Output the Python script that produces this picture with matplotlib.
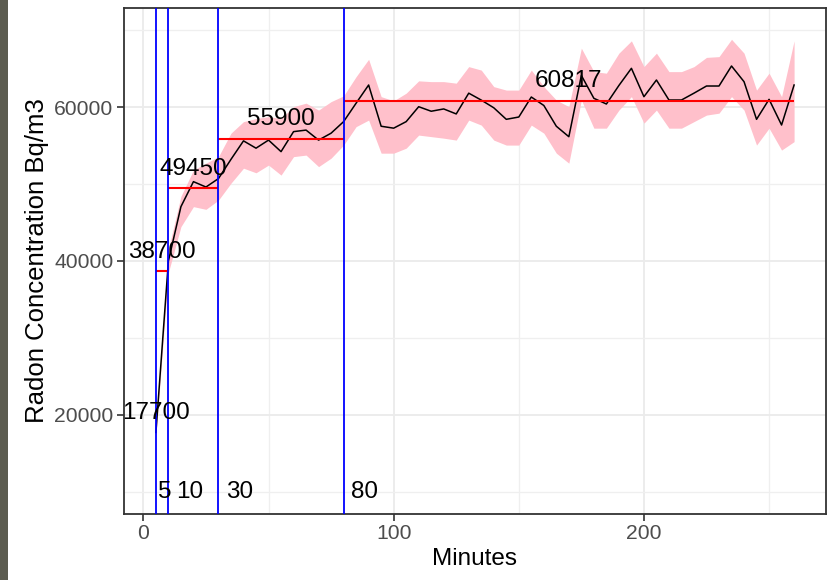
import matplotlib
matplotlib.use("Agg")
import matplotlib.pyplot as plt
from matplotlib.patches import Rectangle
from matplotlib.ticker import MultipleLocator

plt.rcParams['font.family'] = ['Liberation Sans', 'DejaVu Sans']

# ---- data ----
minutes = [5, 10, 15, 20, 25, 30, 35, 40, 45, 50, 55, 60, 65, 70, 75, 80, 85, 90, 95, 100,
           105, 110, 115, 120, 125, 130, 135, 140, 145, 150, 155, 160, 165, 170, 175, 180,
           185, 190, 195, 200, 205, 210, 215, 220, 225, 230, 235, 240, 245, 250, 255, 260]
radon = [17700, 40000, 47050, 50300, 49600, 50700, 53200, 55600, 54650, 55700, 54200, 56800,
         57000, 55700, 56600, 58100, 60500, 62860, 57500, 57250, 58100, 60040, 59450, 59750,
         59100, 61800, 60900, 59900, 58400, 58700, 61300, 60200, 57500, 56140, 64100, 61130,
         60390, 62800, 65030, 61340, 63510, 60910, 60910, 61800, 62730, 62730, 65330, 63290,
         58400, 61000, 57660, 62860]
radon_upper = [18200, 41500, 48400, 51800, 52700, 53550, 56600, 58100, 58500, 58750, 58500,
               60050, 60500, 59600, 60700, 61450, 63950, 66200, 61350, 60800, 61800, 63400,
               63300, 63300, 63100, 65250, 64800, 62650, 62200, 62200, 64800, 62650, 60900,
               60050, 67650, 64600, 64400, 67000, 68600, 65250, 67000, 64600, 64600, 65250,
               66450, 66550, 68800, 67000, 62200, 64400, 61350, 68600]
radon_lower = [17200, 38500, 44450, 47050, 46700, 47900, 50100, 52050, 51450, 52450, 51150,
               53550, 53750, 52250, 53350, 55050, 57450, 58300, 54000, 54000, 54650, 56350,
               56150, 55950, 55700, 58300, 57650, 55700, 55050, 55050, 57650, 56600, 54000,
               52700, 60900, 57250, 57250, 59600, 61350, 57900, 59600, 57250, 57250, 58100,
               58950, 59200, 61350, 59600, 55050, 57250, 54400, 55500]

seg_start = [5, 5, 10, 30, 80]
seg_end = [5, 10, 30, 80, 260]
seg_mean = [17700, 38700, 49450, 55900, 60817]
seg_labels = ["17700", "38700", "49450", "55900", "60817"]
label_offset = 2500

vline_x = [5, 10, 30, 80]
vline_labels = ["5", "10", "30", "80"]
vline_label_x = [8.4, 18.5, 38.5, 88.2]
vline_label_y = 10000

x_title = "Minutes"
y_title = "Radon Concentration Bq/m3"

# ---- figure ----
W, H = 833, 580
fig = plt.figure(figsize=(W / 100, H / 100), dpi=100)
fig.patch.set_facecolor('white')
fig.patches.append(Rectangle((0, 0), 8 / W, 1, transform=fig.transFigure,
                             facecolor='#5c5c50', edgecolor='none', zorder=0))

ax = fig.add_axes([124 / W, 1 - 514 / H, (826 - 124) / W, (514 - 8) / H])
ax.set_facecolor('white')

ax.set_xlim(-7.75, 272.75)
ax.set_ylim(7100, 72870)

ax.xaxis.set_major_locator(MultipleLocator(100))
ax.xaxis.set_minor_locator(MultipleLocator(50))
ax.yaxis.set_major_locator(MultipleLocator(20000))
ax.yaxis.set_minor_locator(MultipleLocator(10000))
ax.grid(which='major', color='#EBEBEB', lw=1.3, zorder=0)
ax.grid(which='minor', color='#EFEFEF', lw=0.9, zorder=0)
ax.set_axisbelow(True)

ax.fill_between(minutes, radon_lower, radon_upper, color='#FFC0CB', lw=0, zorder=1)
ax.plot(minutes, radon, color='black', lw=1.1, zorder=2)

for s, e, m, lab in zip(seg_start, seg_end, seg_mean, seg_labels):
    if e > s:
        ax.plot([s, e], [m, m], color='red', lw=1.5, zorder=3, solid_capstyle='butt')
    ax.text((s + e) / 2, m + label_offset, lab, ha='center', va='center',
            fontsize=17.5, color='black', zorder=5, clip_on=False)

for vx in vline_x:
    ax.axvline(vx, color='blue', lw=1.3, zorder=4)
for lx, lab in zip(vline_label_x, vline_labels):
    ax.text(lx, vline_label_y, lab, ha='center', va='center', fontsize=17.5,
            color='black', zorder=5)

for sp in ax.spines.values():
    sp.set_color('#333333')
    sp.set_linewidth(1.3)

ax.tick_params(which='major', length=5, width=1.2, color='#333333',
               labelsize=15.2, labelcolor='#4D4D4D', pad=2.5)
ax.tick_params(which='minor', length=0)

ax.set_xlabel(x_title, fontsize=17.5, color='black', labelpad=3)
ax.set_ylabel(y_title, fontsize=18.5, color='black', labelpad=4)

fig.savefig('out.png', dpi=100, facecolor=fig.get_facecolor())
